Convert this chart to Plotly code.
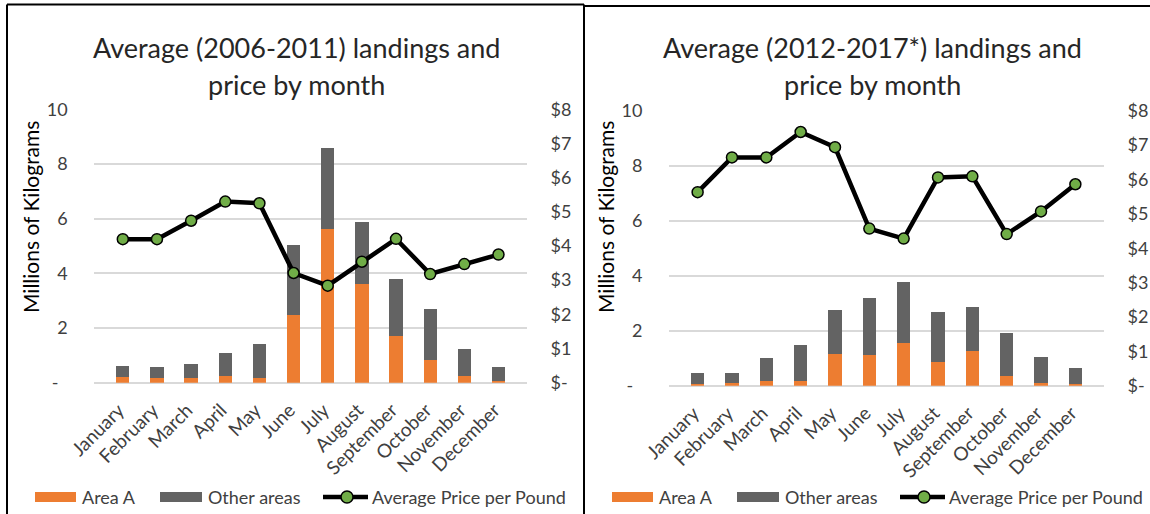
import plotly.graph_objects as go

months = ["January", "February", "March", "April", "May", "June", "July",
          "August", "September", "October", "November", "December"]

# Left panel: Average 2006-2011
area_a_1 = [0.22, 0.16, 0.16, 0.26, 0.16, 2.48, 5.63, 3.61, 1.70, 0.83, 0.24, 0.07]
other_1 = [0.39, 0.41, 0.54, 0.81, 1.24, 2.57, 2.96, 2.27, 2.10, 1.85, 0.99, 0.50]
price_1 = [4.20, 4.20, 4.74, 5.30, 5.25, 3.21, 2.84, 3.54, 4.21, 3.18, 3.47, 3.75]

# Right panel: Average 2012-2017*
area_a_2 = [0.06, 0.10, 0.18, 0.18, 1.14, 1.10, 1.55, 0.85, 1.26, 0.35, 0.10, 0.06]
other_2 = [0.41, 0.37, 0.84, 1.29, 1.61, 2.10, 2.22, 1.82, 1.60, 1.57, 0.95, 0.58]
price_2 = [5.63, 6.64, 6.64, 7.38, 6.94, 4.57, 4.28, 6.06, 6.09, 4.41, 5.07, 5.86]

title_lines = [["Average (2006-2011) landings and", "price by month"],
               ["Average (2012-2017*) landings and", "price by month"]]
y_title = "Millions of Kilograms"
kg_ticks = [0, 2, 4, 6, 8, 10]
kg_text = ["-\u00a0\u00a0", "2", "4", "6", "8", "10"]
price_ticks = [0, 1, 2, 3, 4, 5, 6, 7, 8]
price_text = ["$-", "$1", "$2", "$3", "$4", "$5", "$6", "$7", "$8"]
legend_labels = ["Area A", "Other areas", "Average Price per Pound"]

ORANGE = "#ed7d31"
GRAY = "#636363"
GREEN = "#70ad47"
TXT = "#404040"
FONT = "Lato, Open Sans, sans-serif"

W, H = 1150, 514


def px(x):
    return x / W


def py(y):
    return 1 - y / H


fig = go.Figure()

panels = [
    dict(a=area_a_1, o=other_1, p=price_1, xa="x", ya="y", pa="y2"),
    dict(a=area_a_2, o=other_2, p=price_2, xa="x2", ya="y3", pa="y4"),
]
for pn in panels:
    fig.add_trace(go.Bar(x=months, y=pn["a"], name=legend_labels[0], marker_color=ORANGE,
                         marker_line_width=0,
                         xaxis=pn["xa"], yaxis=pn["ya"], showlegend=False))
    fig.add_trace(go.Bar(x=months, y=pn["o"], name=legend_labels[1], marker_color=GRAY,
                         marker_line_width=0,
                         xaxis=pn["xa"], yaxis=pn["ya"], showlegend=False))
    fig.add_trace(go.Scatter(x=months, y=pn["p"], name=legend_labels[2],
                             mode="lines+markers",
                             line=dict(color="black", width=4.5),
                             marker=dict(color=GREEN, size=11,
                                         line=dict(color="black", width=1.5)),
                             xaxis=pn["xa"], yaxis=pn["pa"], showlegend=False))

xcommon = dict(type="category", tickangle=-45, showgrid=False, showline=False,
               automargin=False, ticks="outside", ticklen=8, tickcolor="rgba(0,0,0,0)",
               ticklabelshift=-4,
               zeroline=False, tickfont=dict(size=19, color=TXT, family=FONT))
kgcommon = dict(range=[0, 10], tickvals=kg_ticks, ticktext=kg_text, showgrid=True,
                automargin=False,
                gridcolor="#d9d9d9", gridwidth=2, zeroline=True, zerolinecolor="#d9d9d9",
                zerolinewidth=2, showline=False, ticks="outside", ticklen=22,
                tickcolor="rgba(0,0,0,0)",
                tickfont=dict(size=18, color=TXT, family=FONT))
pcommon = dict(range=[0, 8], tickvals=price_ticks, ticktext=price_text, showgrid=False,
               automargin=False,
               zeroline=False, showline=False, side="right", ticks="outside", ticklen=19,
               tickcolor="rgba(0,0,0,0)",
               tickfont=dict(size=18, color=TXT, family=FONT))

fig.update_layout(
    template="none",
    width=W, height=H,
    margin=dict(l=0, r=0, t=0, b=0, pad=0),
    paper_bgcolor="white", plot_bgcolor="white",
    barmode="stack", bargap=0.61,
    font=dict(family=FONT, color=TXT),
    showlegend=False,
    xaxis=dict(domain=[px(94.3), px(527)], anchor="y", **xcommon),
    yaxis=dict(domain=[py(382.7), py(109.3)], anchor="x", **kgcommon),
    yaxis2=dict(overlaying="y", anchor="x", **pcommon),
    xaxis2=dict(domain=[px(669), px(1104)], anchor="y3", **xcommon),
    yaxis3=dict(domain=[py(385.7), py(110.7)], anchor="x2", **kgcommon),
    yaxis4=dict(overlaying="y3", anchor="x2", **pcommon),
)

# Titles (two lines each)
for lines, cx in zip(title_lines, [296, 872]):
    for line, cy in zip(lines, [47, 85]):
        fig.add_annotation(text=line, x=px(cx), y=py(cy), xref="paper", yref="paper",
                           showarrow=False, xanchor="center", yanchor="middle",
                           font=dict(size=27, color="#262626", family=FONT))

# Y-axis titles
for cx, cy in [(30, 217), (605, 217)]:
    fig.add_annotation(text=y_title, x=px(cx), y=py(cy), xref="paper", yref="paper",
                       showarrow=False, xanchor="center", yanchor="middle", textangle=-90,
                       font=dict(size=21, color="black", family=FONT))

# Panel borders
shapes = []
bl = dict(color="black", width=2)
shapes.append(dict(type="line", xref="paper", yref="paper", x0=px(7), x1=px(584),
                   y0=py(4.5), y1=py(4.5), line=bl))
shapes.append(dict(type="line", xref="paper", yref="paper", x0=px(7), x1=px(7),
                   y0=py(4.5), y1=0, line=bl))
shapes.append(dict(type="line", xref="paper", yref="paper", x0=px(584), x1=px(584),
                   y0=py(4.5), y1=0, line=bl))
shapes.append(dict(type="line", xref="paper", yref="paper", x0=px(584), x1=1,
                   y0=py(6), y1=py(6), line=bl))

# Legends (drawn as shapes + text)
legend_y = 497
for ox in [0, 577]:
    shapes.append(dict(type="rect", xref="paper", yref="paper",
                       x0=px(35 + ox), x1=px(76 + ox), y0=py(legend_y + 5), y1=py(legend_y - 5),
                       fillcolor=ORANGE, line=dict(width=0)))
    shapes.append(dict(type="rect", xref="paper", yref="paper",
                       x0=px(160 + ox), x1=px(202 + ox), y0=py(legend_y + 5), y1=py(legend_y - 5),
                       fillcolor=GRAY, line=dict(width=0)))
    shapes.append(dict(type="line", xref="paper", yref="paper",
                       x0=px(323 + ox), x1=px(368 + ox), y0=py(legend_y), y1=py(legend_y),
                       line=dict(color="black", width=4.5)))
    shapes.append(dict(type="circle", xref="paper", yref="paper",
                       x0=px(341 + ox), x1=px(353 + ox), y0=py(legend_y + 6), y1=py(legend_y - 6),
                       fillcolor=GREEN, line=dict(color="black", width=1.5)))
    for label, lx in zip(legend_labels, [80, 206, 370]):
        fig.add_annotation(text=label, x=px(lx + ox), y=py(legend_y), xref="paper", yref="paper",
                           showarrow=False, xanchor="left", yanchor="middle",
                           font=dict(size=18, color=TXT, family=FONT))

fig.update_layout(shapes=shapes)

fig.write_html(
    "out.html",
    config={"displayModeBar": False},
    post_script="document.body.style.margin='0';document.body.style.overflow='hidden';",
)
